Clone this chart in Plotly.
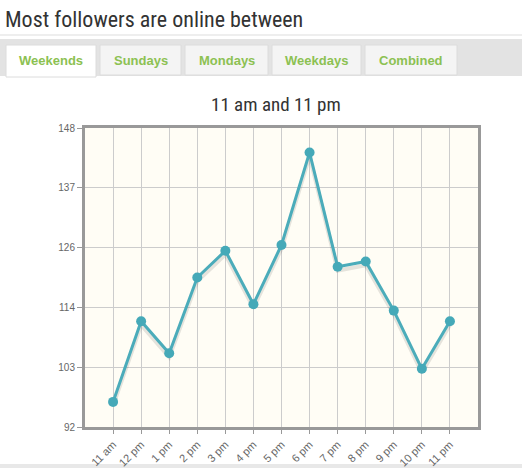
import plotly.graph_objects as go

hours = ["11 am", "12 pm", "1 pm", "2 pm", "3 pm", "4 pm", "5 pm", "6 pm",
         "7 pm", "8 pm", "9 pm", "10 pm", "11 pm"]
followers = [96.7, 111.8, 105.8, 120.0, 125.0, 115.0, 126.1, 143.4,
             122.0, 123.0, 113.8, 102.9, 111.8]
y_tickvals = [92, 103.2, 114.4, 125.6, 136.8, 148]
y_ticktext = ["92", "103", "114", "126", "137", "148"]
tabs = ["Weekends", "Sundays", "Mondays", "Weekdays", "Combined"]
page_title = "Most followers are online between"
chart_title = "11 am and 11 pm"

W, H = 522, 468
L, R, T, B = 85, 44, 128, 41
PW, PH = W - L - R, H - T - B

def px(x):
    return (x - L) / PW

def py(y):
    return (H - B - y) / PH

fig = go.Figure()
xs = list(range(len(hours)))
fig.add_trace(go.Scatter(
    x=xs, y=[v - 0.7 for v in followers],
    mode="lines", line=dict(color="rgba(0,0,0,0.10)", width=4),
    hoverinfo="skip", showlegend=False))
fig.add_trace(go.Scatter(
    x=xs, y=followers,
    mode="lines+markers",
    line=dict(color="#4bacba", width=3),
    marker=dict(color="#45a9b8", size=10),
    showlegend=False))

shapes = []
annotations = []
shapes.append(dict(type="line", xref="paper", yref="paper",
                   x0=px(0), x1=px(W), y0=py(35), y1=py(35),
                   line=dict(color="#dddddd", width=1)))
shapes.append(dict(type="rect", xref="paper", yref="paper",
                   x0=px(0), x1=px(W), y0=py(39), y1=py(76),
                   fillcolor="#e3e3e3", line=dict(width=0), layer="below"))
tab_pos = [(6, 96), (100, 181), (185, 268), (272, 361), (365, 457)]
for i, (name, (a, b)) in enumerate(zip(tabs, tab_pos)):
    fill = "#ffffff" if i == 0 else "#f4f4f4"
    shapes.append(dict(type="rect", xref="paper", yref="paper",
                       x0=px(a), x1=px(b), y0=py(45), y1=py(77 if i == 0 else 75),
                       fillcolor=fill, line=dict(color="#dcdcdc", width=1),
                       layer="below"))
    annotations.append(dict(text="<b>%s</b>" % name, xref="paper", yref="paper",
                            x=px((a + b) / 2), y=py(61), showarrow=False,
                            xanchor="center", yanchor="middle",
                            font=dict(family="Liberation Sans, Arial, sans-serif",
                                      size=13, color="#8cc152")))
cond = "Ubuntu Condensed, Roboto Condensed, Roboto, sans-serif"
annotations.append(dict(text=page_title, xref="paper", yref="paper",
                        x=px(3), y=py(19), showarrow=False,
                        xanchor="left", yanchor="middle",
                        font=dict(family=cond, size=22, color="#333333")))
annotations.append(dict(text=chart_title, xref="paper", yref="paper",
                        x=px(276), y=py(104), showarrow=False,
                        xanchor="center", yanchor="middle",
                        font=dict(family=cond, size=19, color="#333333")))
shapes.append(dict(type="rect", xref="paper", yref="paper",
                   x0=px(0), x1=px(W), y0=py(468), y1=py(464),
                   fillcolor="#e8e8e8", line=dict(width=0), layer="below"))

fig.update_layout(
    width=W, height=H,
    margin=dict(l=L, r=R, t=T, b=B, autoexpand=False),
    paper_bgcolor="#ffffff",
    plot_bgcolor="#fffdf5",
    shapes=shapes,
    annotations=annotations,
    xaxis=dict(
        range=[-1, len(hours)], tickmode="array",
        tickvals=xs, ticktext=hours, automargin=False,
        tickangle=-45, showgrid=True, gridcolor="#cccccc", gridwidth=1,
        showline=True, linecolor="#999999", linewidth=3, mirror=True,
        ticks="outside", ticklen=4, tickcolor="#999999",
        tickfont=dict(family="Liberation Sans, Arial, sans-serif", size=11, color="#666666"),
        zeroline=False,
    ),
    yaxis=dict(
        range=[92, 148], tickmode="array", tickvals=y_tickvals, ticktext=y_ticktext,
        automargin=False,
        showgrid=True, gridcolor="#cccccc", gridwidth=1,
        showline=True, linecolor="#999999", linewidth=3, mirror=True,
        ticks="outside", ticklen=5, tickcolor="#999999",
        tickfont=dict(family="Liberation Sans, Arial, sans-serif", size=10, color="#666666"),
        zeroline=False,
    ),
)
fig.write_html("out.html", config={"displayModeBar": False},
               post_script="document.body.style.margin='0';document.body.style.overflow='hidden';")
